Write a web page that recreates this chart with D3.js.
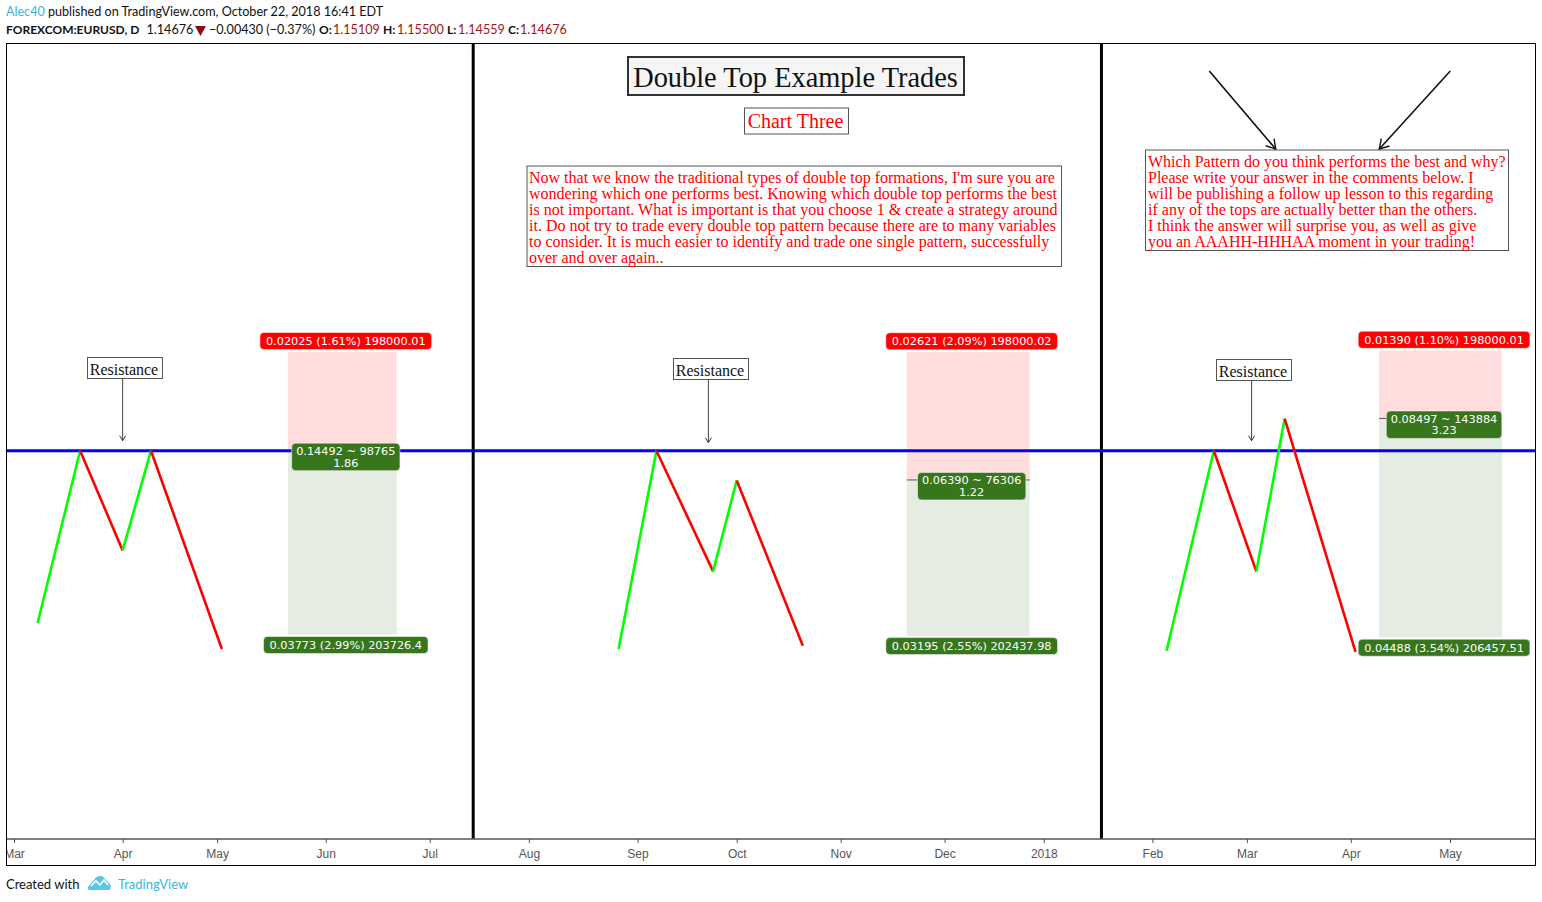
<!DOCTYPE html>
<html>
<head>
<meta charset="utf-8">
<title>Double Top Example Trades</title>
<script src="https://cdn.jsdelivr.net/npm/d3@7"></script>
<style>
  html, body { margin: 0; padding: 0; background: #fff; }
  svg { display: block; }
  .head { font-family: Lato, "Open Sans", sans-serif; font-size: 12.6px; }
  .foot { font-family: Lato, "Open Sans", sans-serif; font-size: 13px; }
  .serif { font-family: "Liberation Serif", serif; }
  .tag { font-family: "DejaVu Sans", sans-serif; font-size: 11.3px; fill: #fff; text-anchor: middle; }
  .axis text { font-family: "Liberation Sans", sans-serif; font-size: 12px; fill: #555; }
</style>
</head>
<body>
<svg id="chart" width="1542" height="902"></svg>
<script>
// x axis counts trading bars from the start of March
var tickBars = [0, 23, 43, 66, 88, 109, 132, 153, 175, 197, 218, 241, 261, 283, 304];
var tickLabels = ["Mar", "Apr", "May", "Jun", "Jul", "Aug", "Sep", "Oct", "Nov", "Dec", "2018", "Feb", "Mar", "Apr", "May"];

// the three double top patterns
var top1Bars = [5, 14, 23, 29, 44];
var top1Prices = [1.22468, 1.26, 1.23956, 1.26, 1.21935];
var top2Bars = [128, 136, 148, 153, 167];
var top2Prices = [1.21935, 1.26, 1.23526, 1.25391, 1.22002];
var top3Bars = [244, 254, 263, 269, 284];
var top3Prices = [1.219, 1.26, 1.23526, 1.26656, 1.21873];

var resistancePrice = 1.26;
var dividerBars = [97, 230];

// long/short position tools
var posStartBars = [58, 189, 289];
var posEndBars = [81, 215, 315];
var posEntry = [1.26, 1.254, 1.2666];
var posStop = [1.28025, 1.28021, 1.2805];
var posTarget = [1.22227, 1.22205, 1.22172];
var stopLabels = ["0.02025 (1.61%) 198000.01", "0.02621 (2.09%) 198000.02", "0.01390 (1.10%) 198000.01"];
var midLabels = ["0.14492 ~ 98765", "0.06390 ~ 76306", "0.08497 ~ 143884"];
var ratioLabels = ["1.86", "1.22", "3.23"];
var targetLabels = ["0.03773 (2.99%) 203726.4", "0.03195 (2.55%) 202437.98", "0.04488 (3.54%) 206457.51"];

// resistance notes
var noteBars = [23, 147, 262];
var noteTips = [1.26205, 1.26164, 1.26205];

var bodyLines = [
  "Now that we know the traditional types of double top formations, I'm sure you are",
  "wondering which one performs best. Knowing which double top performs the best",
  "is not important. What is important is that you choose 1 & create a strategy around",
  "it. Do not try to trade every double top pattern because there are to many variables",
  "to consider. It is much easier to identify and trade one single pattern, successfully",
  "over and over again.."
];
var askLines = [
  "Which Pattern do you think performs the best and why?",
  "Please write your answer in the comments below. I",
  "will be publishing a follow up lesson to this regarding",
  "if any of the tops are actually better than the others.",
  "I think the answer will surprise you, as well as give",
  "you an AAAHH-HHHAA moment in your trading!"
];

var svg = d3.select("#chart");
var left = 6.5, right = 1535.5, top_ = 43.5, axisY = 839, bottom = 865.5;

var x = d3.scaleLinear().domain([0, 304]).range([14, 1450]);
var y = d3.scaleLinear().domain([1.26, 1.18]).range([450.7, 840.9]);

svg.append("defs").append("clipPath").attr("id", "pane")
  .append("rect").attr("x", left).attr("y", top_).attr("width", right - left).attr("height", bottom - top_);
svg.select("defs").append("marker").attr("id", "open").attr("viewBox", "-12 -7 14 14")
  .attr("refX", 0).attr("refY", 0).attr("markerUnits", "userSpaceOnUse")
  .attr("markerWidth", 14).attr("markerHeight", 14).attr("orient", "auto")
  .append("path").attr("d", "M-9,-5.5L0,0L-9,5.5").attr("fill", "none").attr("stroke", "#111").attr("stroke-width", 1.4);

// header
var line1 = svg.append("text").attr("class", "head").attr("x", 6).attr("y", 16).attr("fill", "#111");
line1.append("tspan").attr("fill", "#3bb3e4").text("Alec40");
line1.append("tspan").text(" published on TradingView.com, October 22, 2018 16:41 EDT");

function headText(xp, str, color, bold) {
  svg.append("text").attr("class", "head").attr("x", xp).attr("y", 34)
    .attr("fill", color).attr("font-weight", bold ? 700 : 400)
    .style("font-size", bold ? "12px" : null).text(str);
}
headText(6, "FOREXCOM:EURUSD, D", "#111", true);
headText(146.5, "1.14676", "#111", false);
svg.append("path").attr("d", "M195,26H206L200.5,36Z").attr("fill", "#8b0d0d");
headText(209, "\u22120.00430 (\u22120.37%)", "#111", false);
var ohlcNames = ["O:", "H:", "L:", "C:"];
var ohlcVals = ["1.15109", "1.15500", "1.14559", "1.14676"];
var ohlcNameX = [319, 383, 447, 508];
var ohlcValX = [333, 397, 458, 520];
ohlcNames.forEach(function (n, i) {
  headText(ohlcNameX[i], n, "#111", true);
  headText(ohlcValX[i], ohlcVals[i], "#a31515", false);
});

var pane = svg.append("g").attr("clip-path", "url(#pane)");

// position tools, fills first
posEntry.forEach(function (entry, i) {
  var x0 = x(posStartBars[i]), x1 = x(posEndBars[i]);
  pane.append("rect").attr("x", x0).attr("width", x1 - x0)
    .attr("y", y(posStop[i])).attr("height", y(entry) - y(posStop[i])).attr("fill", "#ffdddd");
  pane.append("rect").attr("x", x0).attr("width", x1 - x0)
    .attr("y", y(entry)).attr("height", y(posTarget[i]) - y(entry)).attr("fill", "#e5ece2");
  pane.append("line").attr("x1", x0).attr("x2", x1).attr("y1", y(entry)).attr("y2", y(entry))
    .attr("stroke", "#555").attr("stroke-width", 1);
});

// dividers
pane.selectAll(".divider").data(dividerBars).enter().append("line")
  .attr("class", "divider")
  .attr("x1", function (d) { return x(d) + 1; })
  .attr("x2", function (d) { return x(d) + 1; })
  .attr("y1", top_).attr("y2", axisY)
  .attr("stroke", "#000").attr("stroke-width", 3);

// resistance line
pane.append("line").attr("x1", left).attr("x2", right)
  .attr("y1", y(resistancePrice)).attr("y2", y(resistancePrice))
  .attr("stroke", "#0000ff").attr("stroke-width", 3);

// pattern legs, green going up and red going down
function drawTop(bars, prices) {
  var pts = d3.zip(bars, prices);
  d3.pairs(pts).forEach(function (p) {
    pane.append("path")
      .attr("d", d3.line().x(function (d) { return x(d[0]); }).y(function (d) { return y(d[1]); })(p))
      .attr("fill", "none").attr("stroke-width", 2.6).attr("stroke-linecap", "butt")
      .attr("stroke", p[1][1] > p[0][1] ? "#00ff00" : "#ff0000");
  });
}
drawTop(top1Bars, top1Prices);
drawTop(top2Bars, top2Prices);
drawTop(top3Bars, top3Prices);

// rounded tags on the position tools
function tag(cx, cy, lines, color) {
  var g = pane.append("g");
  var texts = lines.map(function (t, k) {
    return g.append("text").attr("class", "tag").attr("x", cx)
      .attr("y", cy + 4 + (k - (lines.length - 1) / 2) * 11.5).text(t);
  });
  var pad = lines.length == 1 ? 12 : 9;
  var w = d3.max(texts, function (t) { return t.node().getComputedTextLength(); }) + pad;
  var h = lines.length == 1 ? 17 : 27.5;
  g.insert("rect", "text").attr("x", cx - w / 2).attr("y", cy - h / 2).attr("width", w).attr("height", h)
    .attr("rx", 4).attr("fill", color).attr("stroke", "#fff").attr("stroke-opacity", 0.5);
}
posEntry.forEach(function (entry, i) {
  var cx = (x(posStartBars[i]) + x(posEndBars[i])) / 2 + 3.5;
  tag(cx, y(posStop[i]) - 10.9, [stopLabels[i]], "#ff0000");
  tag(cx, y(entry) + 6.2, [midLabels[i], ratioLabels[i]], "#38761d");
  tag(cx, y(posTarget[i]) + 10.3, [targetLabels[i]], "#38761d");
});

// boxed text
function box(bx, by, bw, bh, stroke, sw, fill) {
  svg.append("rect").attr("x", bx).attr("y", by).attr("width", bw).attr("height", bh)
    .attr("fill", fill).attr("stroke", stroke).attr("stroke-width", sw);
}
function serifText(tx, ty, size, color, str, anchor) {
  svg.append("text").attr("class", "serif").attr("x", tx).attr("y", ty)
    .attr("font-size", size).attr("fill", color).attr("text-anchor", anchor || "start")
    .attr("xml:space", "preserve").text(str);
}

box(628, 57, 336, 38, "#333", 2, "#f5f5f5");
serifText(795.5, 87, 28.4, "#111", "Double Top Example Trades", "middle");
box(744.5, 108, 104, 26, "#555", 1, "#fff");
serifText(795.5, 128, 20, "#ff0000", "Chart Three", "middle");

box(527, 166, 534.5, 100.5, "#555", 1, "#fff");
bodyLines.forEach(function (l, i) { serifText(529, 183 + i * 16, 16, "#ff0000", l); });

box(1145.5, 150, 363, 100.5, "#555", 1, "#fff");
askLines.forEach(function (l, i) { serifText(1148, 167 + i * 16, 16, "#ff0000", l); });

// arrows over the question box
var arrowFrom = [[1209.3, 71], [1450.3, 71]];
var arrowTo = [[1275.7, 149], [1379.3, 149]];
arrowFrom.forEach(function (a, i) {
  svg.append("line").attr("x1", a[0]).attr("y1", a[1]).attr("x2", arrowTo[i][0]).attr("y2", arrowTo[i][1])
    .attr("stroke", "#111").attr("stroke-width", 1.6).attr("marker-end", "url(#open)");
});

// resistance notes
var noteBoxLeft = [87.5, 673.5, 1216.5];
var noteBoxTop = [357.5, 358.5, 359.5];
noteBars.forEach(function (b, i) {
  svg.append("line").attr("x1", x(b)).attr("x2", x(b)).attr("y1", noteBoxTop[i] + 21).attr("y2", y(noteTips[i]))
    .attr("stroke", "#444").attr("stroke-width", 1);
  svg.append("path")
    .attr("d", "M" + (x(b) - 3) + "," + (y(noteTips[i]) - 5) + "L" + x(b) + "," + y(noteTips[i]) + "L" + (x(b) + 3) + "," + (y(noteTips[i]) - 5))
    .attr("fill", "none").attr("stroke", "#333").attr("stroke-width", 1);
  box(noteBoxLeft[i], noteBoxTop[i], 75, 21, "#555", 1, "#fff");
  serifText(noteBoxLeft[i] + 36.5, noteBoxTop[i] + 17, 16, "#111", "Resistance", "middle");
});

// time axis
var axis = d3.axisBottom(x).tickValues(tickBars)
  .tickFormat(function (d, i) { return tickLabels[i]; }).tickSize(4).tickPadding(6);
var axisG = pane.append("g").attr("class", "axis").attr("transform", "translate(0," + axisY + ")").call(axis);
axisG.select(".domain").remove();
axisG.selectAll(".tick line").attr("stroke", "#555");
svg.append("line").attr("x1", left).attr("x2", right).attr("y1", axisY).attr("y2", axisY)
  .attr("stroke", "#555").attr("stroke-width", 1.5);

// frame
svg.append("rect").attr("x", left).attr("y", top_).attr("width", right - left).attr("height", bottom - top_)
  .attr("fill", "none").attr("stroke", "#000").attr("stroke-width", 1);

// footer
svg.append("text").attr("class", "foot").attr("x", 6).attr("y", 889).attr("fill", "#111").text("Created with");
svg.append("path")
  .attr("d", "M88,887 L94,880 Q96,876 100,876 Q104,876 105,879 L109,883 Q112,886 110,890 L90,890 Q87,890 88,887Z")
  .attr("fill", "#5cc6e8");
svg.append("path").attr("d", "M91,886 L96,881 L100,885 L104,880 L108,885")
  .attr("fill", "none").attr("stroke", "#fff").attr("stroke-width", 1.6);
svg.append("text").attr("class", "foot").attr("x", 118).attr("y", 889).attr("fill", "#3bb3e4").text("TradingView");
</script>
</body>
</html>
